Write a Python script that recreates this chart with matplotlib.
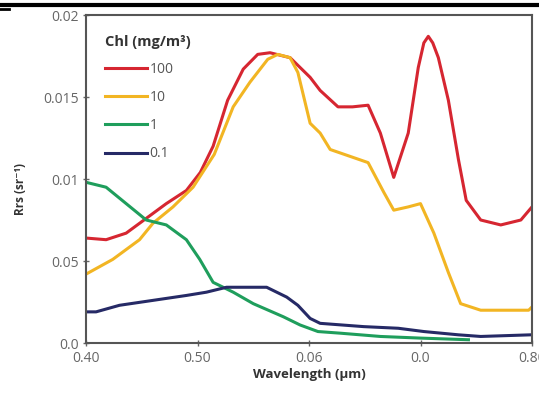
import numpy as np
import matplotlib
matplotlib.use("Agg")
import matplotlib.pyplot as plt
from matplotlib.lines import Line2D

# wavelength (um) and Rrs (sr^-1)
wl_100 = [0.400, 0.418, 0.436, 0.454, 0.472, 0.490, 0.5025, 0.514, 0.527, 0.541,
          0.554, 0.565, 0.583, 0.601, 0.610, 0.626, 0.639, 0.653, 0.664, 0.676,
          0.689, 0.698, 0.703, 0.707, 0.711, 0.716, 0.725, 0.734, 0.741, 0.754,
          0.772, 0.790, 0.800]
rrs_100 = [0.0064, 0.0063, 0.0067, 0.0076, 0.0085, 0.0093, 0.0104, 0.0120, 0.0148, 0.0167,
           0.0176, 0.0177, 0.0174, 0.0162, 0.0154, 0.0144, 0.0144, 0.0145, 0.0128, 0.0101,
           0.0128, 0.0168, 0.0183, 0.0187, 0.0183, 0.0174, 0.0148, 0.0112, 0.0087, 0.0075,
           0.0072, 0.0075, 0.0083]

wl_10 = [0.400, 0.424, 0.448, 0.460, 0.478, 0.496, 0.515, 0.532, 0.547, 0.563,
         0.572, 0.583, 0.590, 0.601, 0.610, 0.619, 0.653, 0.667, 0.676, 0.689,
         0.700, 0.712, 0.725, 0.736, 0.754, 0.797, 0.800]
rrs_10 = [0.0042, 0.0051, 0.0063, 0.0073, 0.0083, 0.0095, 0.0115, 0.0144, 0.0159, 0.0173,
          0.0176, 0.0174, 0.0165, 0.0134, 0.0128, 0.0118, 0.0110, 0.0092, 0.0081, 0.0083,
          0.0085, 0.0067, 0.0043, 0.0024, 0.0020, 0.0020, 0.0022]

wl_1 = [0.400, 0.418, 0.436, 0.454, 0.472, 0.490, 0.502, 0.514, 0.532, 0.550,
        0.577, 0.592, 0.608, 0.628, 0.664, 0.700, 0.743]
rrs_1 = [0.0098, 0.0095, 0.0085, 0.0075, 0.0072, 0.0063, 0.0051, 0.0037, 0.0031, 0.0024,
         0.0016, 0.0011, 0.0007, 0.0006, 0.0004, 0.0003, 0.0002]

wl_01 = [0.400, 0.409, 0.430, 0.460, 0.490, 0.508, 0.526, 0.544, 0.562, 0.580,
         0.590, 0.601, 0.610, 0.649, 0.680, 0.703, 0.734, 0.754, 0.799]
rrs_01 = [0.0019, 0.0019, 0.0023, 0.0026, 0.0029, 0.0031, 0.0034, 0.0034, 0.0034, 0.0028,
          0.0023, 0.0015, 0.0012, 0.0010, 0.0009, 0.0007, 0.0005, 0.0004, 0.0005]

x_ticks = [0.40, 0.50, 0.60, 0.70, 0.80]
x_labels = ["0.40", "0.50", "0.06", "0.0", "0.80"]
y_ticks = [0.0, 0.005, 0.01, 0.015, 0.02]
y_labels = ["0.0", "0.05", "0.01", "0.015", "0.02"]

plt.rcParams['font.family'] = ['Open Sans', 'DejaVu Sans']

fig = plt.figure(figsize=(5.39, 3.95), dpi=100, facecolor='w')
ax = fig.add_axes([0.1596, 0.1316, 0.8274, 0.8304])

ax.plot(wl_100, rrs_100, color='#d62631', lw=2.2, label='100')
ax.plot(wl_10, rrs_10, color='#f2b523', lw=2.2, label='10')
ax.plot(wl_1, rrs_1, color='#1f9e5c', lw=2.2, label='1')
ax.plot(wl_01, rrs_01, color='#262a66', lw=2.2, label='0.1')

ax.set_xlim(0.40, 0.80)
ax.set_ylim(0.0, 0.02)
ax.set_xticks(x_ticks)
ax.set_xticklabels(x_labels)
ax.set_yticks(y_ticks)
ax.set_yticklabels(y_labels)
ax.tick_params(labelsize=10, colors='#666666', length=4, width=1, direction='inout')
ax.set_xlabel('Wavelength (µm)', fontsize=9.5, fontweight='bold', color='#333333', labelpad=2)
ax.set_ylabel('Rrs (sr⁻¹)', fontsize=8.5, fontweight='bold', color='#333333')
ax.yaxis.set_label_coords(-0.132, 0.47)

for spine in ('top', 'right', 'bottom', 'left'):
    ax.spines[spine].set_color('#555555')
    ax.spines[spine].set_linewidth(1.5)

legend = ax.legend(title='Chl (mg/m³)', loc='upper left', bbox_to_anchor=(0.043, 0.94),
                   frameon=False, fontsize=10, title_fontsize=10.5, handlelength=3.0,
                   handletextpad=0.2, labelspacing=0.95, borderaxespad=0, borderpad=0,
                   alignment='left')
legend.get_title().set_fontweight('bold')
legend.get_title().set_color('#333333')
for t in legend.get_texts():
    t.set_color('#555555')

# black rule across the top of the image
fig.add_artist(Line2D([0, 1], [0.987, 0.987], color='black', lw=3, transform=fig.transFigure))
fig.add_artist(Line2D([0, 0.016], [0.978, 0.978], color='black', lw=2, transform=fig.transFigure))

fig.savefig('out.png', dpi=100)
